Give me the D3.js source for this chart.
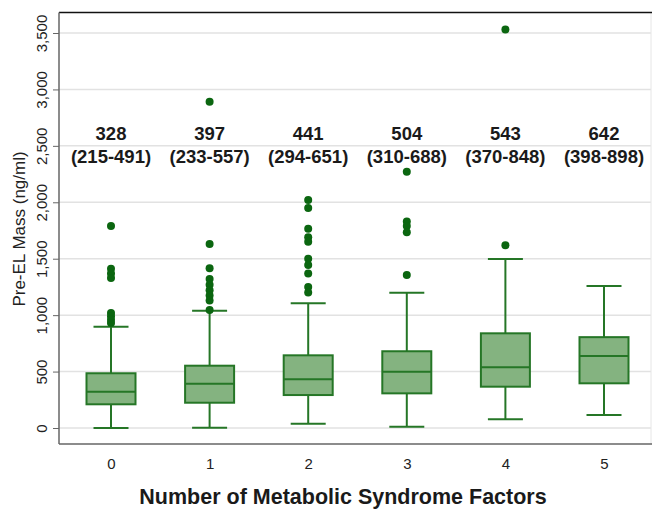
<!DOCTYPE html>
<html>
<head>
<meta charset="utf-8">
<script src="https://cdn.jsdelivr.net/npm/d3@7"></script>
<style>
  body { margin: 0; background: #fff; }
  text { font-family: "Liberation Sans", Arial, sans-serif; }
</style>
</head>
<body>
<div id="box"></div>
<script>
// values
var categories = ["0", "1", "2", "3", "4", "5"];
var whiskerLow = [0, 3, 38, 12, 77, 115];
var q1 = [210, 224, 292, 307, 366, 396];
var median = [322, 393, 431, 499, 538, 638];
var q3 = [485, 552, 644, 680, 839, 805];
var whiskerHigh = [898, 1040, 1105, 1199, 1497, 1258];
var outliers = [
  [1790, 1410, 1370, 1330, 1020, 990, 960, 930],
  [2890, 1630, 1415, 1320, 1270, 1220, 1175, 1130, 1045],
  [2020, 1950, 1765, 1690, 1650, 1500, 1445, 1370, 1250, 1200],
  [2270, 1830, 1790, 1735, 1355],
  [3530, 1620],
  []
];
var medianLabels = ["328", "397", "441", "504", "543", "642"];
var rangeLabels = ["(215-491)", "(233-557)", "(294-651)", "(310-688)", "(370-848)", "(398-898)"];
var yTicks = [0, 500, 1000, 1500, 2000, 2500, 3000, 3500];

var width = 652, height = 510;
var frame = {left: 59, right: 651, top: 12.5, bottom: 444};
var boxW = 49, capW = 35;
var fill = "#84b380", stroke = "#257626", dot = "#0b6610";

var svg = d3.select("#box").append("svg")
    .attr("width", width)
    .attr("height", height);

var x = d3.scalePoint()
    .domain(categories)
    .range([111, 604]);
var y = d3.scaleLinear()
    .domain([0, 3500])
    .range([428, 33]);

var rows = categories.map(function(c, i) {
  return {cat: c, lo: whiskerLow[i], q1: q1[i], med: median[i], q3: q3[i], hi: whiskerHigh[i],
          out: outliers[i], ml: medianLabels[i], rl: rangeLabels[i]};
});

// grid lines
svg.append("g")
  .selectAll("line")
  .data(yTicks)
  .enter().append("line")
    .attr("x1", frame.left)
    .attr("x2", frame.right)
    .attr("y1", function(d) { return y(d); })
    .attr("y2", function(d) { return y(d); })
    .style("stroke", "#e2e2e2")
    .style("stroke-width", 1.5);

// frame
svg.append("line")
  .attr("x1", frame.right).attr("x2", frame.right)
  .attr("y1", frame.top).attr("y2", frame.bottom)
  .style("stroke", "#e6e6e6").style("stroke-width", 1);
svg.append("line")
  .attr("x1", frame.left).attr("x2", width)
  .attr("y1", frame.top).attr("y2", frame.top)
  .style("stroke", "#111").style("stroke-width", 1.5);
svg.append("line")
  .attr("x1", frame.left).attr("x2", width)
  .attr("y1", frame.bottom).attr("y2", frame.bottom)
  .style("stroke", "#666").style("stroke-width", 1.5);

// y axis
var yAxis = svg.append("g")
    .attr("transform", "translate(" + frame.left + ",0)")
    .call(d3.axisLeft(y).tickValues(yTicks).tickFormat(d3.format(",")).tickSize(6).tickPadding(0));
yAxis.select(".domain").remove();
yAxis.append("line")
    .attr("y1", frame.top).attr("y2", frame.bottom)
    .style("stroke", "#666").style("stroke-width", 1.5);
yAxis.selectAll(".tick line").style("stroke", "#666").style("stroke-width", 1);
yAxis.selectAll("text")
    .attr("x", 0)
    .attr("dy", 0)
    .attr("transform", "translate(-12,0) rotate(-90)")
    .style("text-anchor", "middle")
    .style("font-size", "15px")
    .style("fill", "#222");

// x axis
var xAxis = svg.append("g")
    .attr("transform", "translate(0," + frame.bottom + ")")
    .call(d3.axisBottom(x).tickSize(0).tickPadding(0));
xAxis.select(".domain").remove();
xAxis.selectAll("text")
    .attr("y", 25)
    .attr("dy", 0)
    .style("font-size", "15px")
    .style("fill", "#222");

// axis titles
svg.append("text")
  .attr("transform", "translate(25,229) rotate(-90)")
  .attr("text-anchor", "middle")
  .style("font-size", "17px")
  .style("fill", "#222")
  .text("Pre-EL Mass (ng/ml)");

svg.append("text")
  .attr("x", 343)
  .attr("y", 504)
  .attr("text-anchor", "middle")
  .style("font-size", "21.5px")
  .style("font-weight", "bold")
  .style("fill", "#1a1a1a")
  .text("Number of Metabolic Syndrome Factors");

// boxes
var g = svg.selectAll(".box")
    .data(rows)
  .enter().append("g")
    .attr("class", "box")
    .attr("transform", function(d) { return "translate(" + x(d.cat) + ",0)"; });

g.append("line")
  .attr("y1", function(d) { return y(d.lo); })
  .attr("y2", function(d) { return y(d.q1); })
  .style("stroke", stroke).style("stroke-width", 2);
g.append("line")
  .attr("y1", function(d) { return y(d.q3); })
  .attr("y2", function(d) { return y(d.hi); })
  .style("stroke", stroke).style("stroke-width", 2);
g.append("line")
  .attr("x1", -capW / 2).attr("x2", capW / 2)
  .attr("y1", function(d) { return y(d.lo); })
  .attr("y2", function(d) { return y(d.lo); })
  .style("stroke", stroke).style("stroke-width", 2);
g.append("line")
  .attr("x1", -capW / 2).attr("x2", capW / 2)
  .attr("y1", function(d) { return y(d.hi); })
  .attr("y2", function(d) { return y(d.hi); })
  .style("stroke", stroke).style("stroke-width", 2);
g.append("rect")
  .attr("x", -boxW / 2)
  .attr("width", boxW)
  .attr("y", function(d) { return y(d.q3); })
  .attr("height", function(d) { return y(d.q1) - y(d.q3); })
  .style("fill", fill)
  .style("stroke", stroke)
  .style("stroke-width", 2);
g.append("line")
  .attr("x1", -boxW / 2).attr("x2", boxW / 2)
  .attr("y1", function(d) { return y(d.med); })
  .attr("y2", function(d) { return y(d.med); })
  .style("stroke", stroke).style("stroke-width", 2);

g.selectAll("circle")
    .data(function(d) { return d.out; })
  .enter().append("circle")
    .attr("r", 4)
    .attr("cy", function(v) { return y(v); })
    .style("fill", dot);

// median (IQR) labels
g.append("text")
  .attr("y", 140)
  .attr("text-anchor", "middle")
  .style("font-size", "18.5px")
  .style("font-weight", "bold")
  .style("fill", "#1a1a1a")
  .text(function(d) { return d.ml; });
g.append("text")
  .attr("y", 163)
  .attr("text-anchor", "middle")
  .style("font-size", "18.5px")
  .style("font-weight", "bold")
  .style("fill", "#1a1a1a")
  .text(function(d) { return d.rl; });
</script>
</body>
</html>
